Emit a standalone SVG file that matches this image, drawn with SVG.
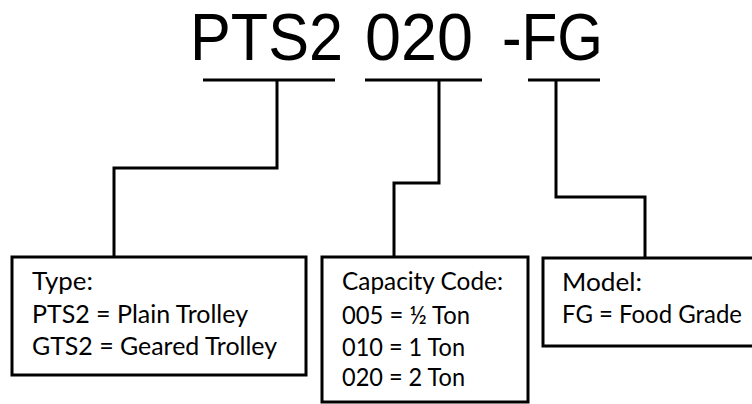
<svg xmlns="http://www.w3.org/2000/svg" width="752" height="404" viewBox="0 0 752 404">
<style>
.t{font-family:Lato,"Open Sans","Liberation Sans",sans-serif;fill:#000}
.title{font-family:"Liberation Sans",Arial,sans-serif;font-size:66px;fill:#000}
.lbl{font-size:24.5px}
.ln{fill:none;stroke:#000;stroke-width:3;stroke-linejoin:miter;stroke-linecap:butt}
.box{fill:#fff;stroke:#000;stroke-width:3}
</style>
<rect width="752" height="404" fill="#fff"/>
<g id="title">
<text class="title" x="190" y="60" textLength="153" lengthAdjust="spacingAndGlyphs">PTS2</text>
<text class="title" x="365" y="60" textLength="108" lengthAdjust="spacingAndGlyphs">020</text>
<text class="title" x="502" y="60" textLength="101" lengthAdjust="spacingAndGlyphs">-FG</text>
</g>
<g id="connectors">
<path class="ln" d="M203 80H335M277 80V168H114V257"/>
<path class="ln" d="M365 80H482M439 80V183H394V257"/>
<path class="ln" d="M528 80H600M556 80V197H645V257"/>
</g>
<g id="type">
<rect class="box" x="12" y="257" width="294" height="118"/>
<text class="t lbl" x="32" y="290" textLength="61" lengthAdjust="spacingAndGlyphs">Type:</text>
<text class="t lbl" x="32" y="323" textLength="216" lengthAdjust="spacingAndGlyphs">PTS2 = Plain Trolley</text>
<text class="t lbl" x="32" y="355" textLength="245" lengthAdjust="spacingAndGlyphs">GTS2 = Geared Trolley</text>
</g>
<g id="capacity">
<rect class="box" x="322" y="257" width="206" height="145"/>
<text class="t lbl" x="342" y="290" textLength="161" lengthAdjust="spacingAndGlyphs">Capacity Code:</text>
<text class="t lbl" x="342" y="324" textLength="128" lengthAdjust="spacingAndGlyphs">005 = ½ Ton</text>
<text class="t lbl" x="342" y="356" textLength="123" lengthAdjust="spacingAndGlyphs">010 = 1 Ton</text>
<text class="t lbl" x="342" y="386" textLength="123" lengthAdjust="spacingAndGlyphs">020 = 2 Ton</text>
</g>
<g id="model">
<rect class="box" x="543" y="258" width="215" height="88"/>
<text class="t lbl" x="562" y="291" textLength="80" lengthAdjust="spacingAndGlyphs">Model:</text>
<text class="t lbl" x="562" y="323" textLength="180" lengthAdjust="spacingAndGlyphs">FG = Food Grade</text>
</g>
</svg>
